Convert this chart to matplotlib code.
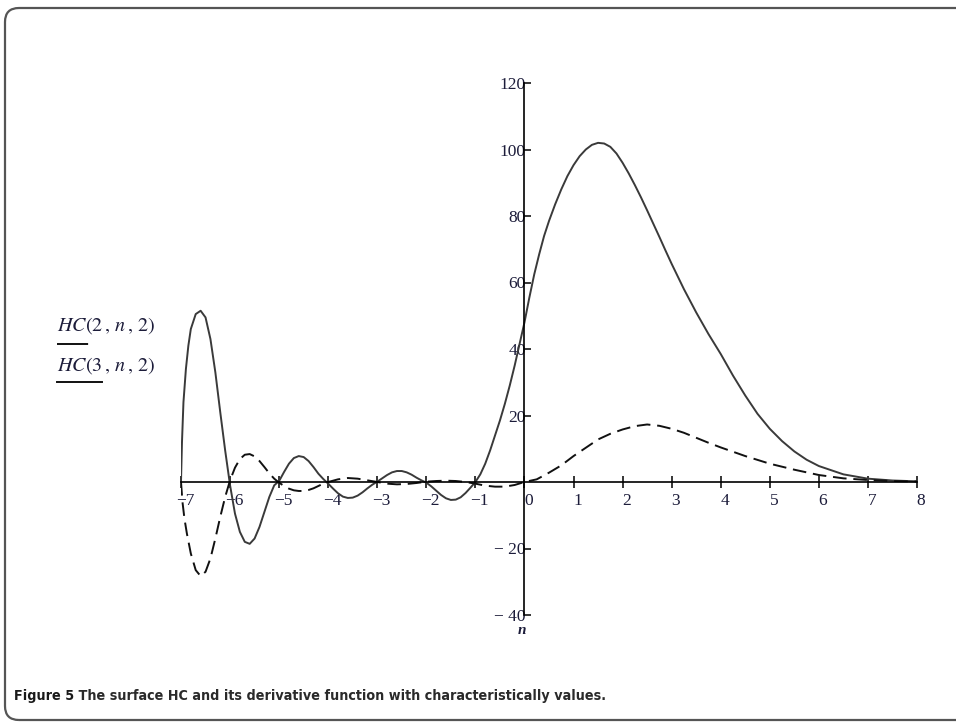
import matplotlib
matplotlib.use("Agg")
import matplotlib.pyplot as plt
from matplotlib import font_manager
from matplotlib.patches import FancyBboxPatch
from matplotlib.lines import Line2D
from matplotlib.transforms import IdentityTransform, ScaledTranslation

# HC(3,n,2) - solid curve
n_solid = [-7.0, -6.98, -6.95, -6.9, -6.85, -6.8, -6.7, -6.6, -6.5, -6.4, -6.3, -6.2, -6.1,
           -6.0, -5.9, -5.8, -5.7, -5.6, -5.5, -5.4, -5.3, -5.2, -5.1, -5.0, -4.9, -4.8,
           -4.7, -4.6, -4.5, -4.4, -4.3, -4.2, -4.1, -4.0, -3.9, -3.8, -3.7, -3.6, -3.5,
           -3.4, -3.3, -3.2, -3.1, -3.0, -2.9, -2.8, -2.7, -2.6, -2.5, -2.4, -2.3, -2.2,
           -2.1, -2.0, -1.9, -1.8, -1.7, -1.6, -1.5, -1.4, -1.3, -1.2, -1.1, -1.0, -0.9,
           -0.8, -0.7, -0.6, -0.5, -0.4, -0.3, -0.2, -0.1, 0.0, 0.1, 0.2, 0.3, 0.4, 0.5,
           0.625, 0.75, 0.875, 1.0, 1.125, 1.25, 1.375, 1.5, 1.625, 1.75, 1.875, 2.0,
           2.125, 2.25, 2.375, 2.5, 2.625, 2.75, 2.875, 3.0, 3.25, 3.5, 3.75, 4.0, 4.25,
           4.5, 4.75, 5.0, 5.25, 5.5, 5.75, 6.0, 6.5, 7.0, 7.5, 8.0]
hc3 = [0, 12, 24, 34, 41, 46, 50.5, 51.5, 49.5, 43, 33, 21, 9.5,
       -1, -9.5, -15, -18, -18.6, -17, -13.5, -9, -4.5, -1, 0.3, 3, 5.5,
       7.2, 7.8, 7.5, 6.3, 4.5, 2.5, 0.9, -0.5, -2, -3.4, -4.4, -4.8, -4.7,
       -4.1, -3.1, -1.9, -0.8, 0.1, 1.1, 2.1, 2.9, 3.3, 3.3, 2.9, 2.2, 1.3,
       0.5, -0.2, -1.3, -2.6, -3.9, -4.9, -5.4, -5.3, -4.6, -3.3, -1.7, 0, 2.3,
       5.5, 9.5, 14, 18.5, 23.5, 29, 35, 41.5, 48, 55.5, 62.5, 68.5, 74, 78.5,
       83.5, 88, 92, 95.3, 98, 100, 101.4, 102, 101.8, 100.8, 98.8, 96,
       92.8, 89.3, 85.6, 81.7, 77.7, 73.7, 69.6, 65.6, 58, 51, 44.5, 38.5, 32,
       26, 20.5, 16, 12.3, 9.2, 6.7, 4.8, 2.3, 1.0, 0.45, 0.2]

# HC(2,n,2) - dashed curve
n_dash = [-7.0, -6.97, -6.93, -6.88, -6.8, -6.7, -6.6, -6.5, -6.4, -6.3, -6.2, -6.1, -6.0,
          -5.9, -5.8, -5.7, -5.6, -5.5, -5.4, -5.3, -5.2, -5.1, -5.0, -4.9, -4.8, -4.7,
          -4.6, -4.5, -4.4, -4.3, -4.2, -4.1, -4.0, -3.8, -3.6, -3.4, -3.2, -3.0, -2.8,
          -2.6, -2.4, -2.2, -2.0, -1.8, -1.6, -1.4, -1.2, -1.0, -0.8, -0.6, -0.4, -0.2,
          0.0, 0.25, 0.5, 0.75, 1.0, 1.25, 1.5, 1.75, 2.0, 2.25, 2.5, 2.75, 3.0, 3.25,
          3.5, 3.75, 4.0, 4.5, 5.0, 5.5, 6.0, 6.5, 7.0, 7.5, 8.0]
hc2 = [0, -6, -11, -15.5, -21.5, -26.5, -28.3, -27, -23, -17, -10.5, -4.5, 0.5,
       4.3, 6.9, 8.2, 8.4, 7.7, 6.3, 4.5, 2.6, 1, -0.2, -1.2, -2, -2.5,
       -2.7, -2.7, -2.4, -1.9, -1.2, -0.5, 0, 0.8, 1.2, 1.0, 0.5, 0, -0.5,
       -0.7, -0.6, -0.3, 0.1, 0.3, 0.4, 0.3, 0, -0.5, -1.1, -1.4, -1.4, -0.9,
       0, 0.8, 2.8, 5, 7.8, 10.3, 12.8, 14.5, 15.8, 16.8, 17.3, 16.9, 16, 14.8,
       13.3, 11.8, 10.4, 7.8, 5.5, 3.7, 2.1, 1.1, 0.6, 0.3, 0.15]

x_ticks = list(range(-7, 9))
y_ticks = [-40, -20, 20, 40, 60, 80, 100, 120]
legend_labels = [r"$HC(2\,,\,n\,,\,2)$", r"$HC(3\,,\,n\,,\,2)$"]
caption_bold = "Figure 5"
caption_rest = " The surface HC and its derivative function with characteristically values."

plt.rcParams["mathtext.fontset"] = "stix"
W, H = 956, 723
tick_color = "#1c1c3a"

fig = plt.figure(figsize=(W / 100, H / 100), dpi=100)

# rounded frame around the figure
frame = FancyBboxPatch((5, 3), 990, 712, boxstyle="round,pad=0,rounding_size=14",
                       transform=IdentityTransform(), fill=False, edgecolor="#555555",
                       linewidth=1.6)
fig.patches.append(frame)

ax = fig.add_axes([181 / W, 1 - 615 / H, 736 / W, 532 / H])
ax.plot(n_solid, hc3, color="#3a3a3a", linewidth=1.4)
ax.plot(n_dash, hc2, color="#111111", linewidth=1.4, dashes=(7, 3.5))
ax.set_xlim(-7, 8)
ax.set_ylim(-40, 120)

for s in ["top", "right"]:
    ax.spines[s].set_visible(False)
ax.spines["left"].set_position(("data", 0))
ax.spines["bottom"].set_position(("data", 0))
ax.spines["left"].set_linewidth(1.2)
ax.spines["bottom"].set_linewidth(1.2)

ax.set_xticks(x_ticks)
ax.set_xticklabels([("\u2212" + str(-v)) if v < 0 else str(v) for v in x_ticks])
ax.set_yticks(y_ticks)
ax.set_yticklabels([("\u2212 " + str(-v)) if v < 0 else str(v) for v in y_ticks])
ax.tick_params(axis="x", direction="inout", length=8, width=1.1, pad=4,
               labelsize=12.5, labelcolor=tick_color)
ax.tick_params(axis="y", direction="in", length=5, width=1.1, pad=-1,
               labelsize=12.5, labelcolor=tick_color)
for lab in ax.get_xticklabels() + ax.get_yticklabels():
    lab.set_family("Liberation Serif")
for lab in ax.get_xticklabels():
    lab.set_transform(lab.get_transform() + ScaledTranslation(4 / 100, 0, fig.dpi_scale_trans))

# axis label n
fig.text(522 / W, 1 - 631 / H, "n", family="Liberation Serif", style="italic",
         weight="bold", fontsize=11, color=tick_color, ha="center", va="center")

# legend-like labels on the left
fig.text(57 / W, 1 - 326 / H, legend_labels[0], fontsize=14.5, color=tick_color,
         ha="left", va="center")
fig.text(57 / W, 1 - 366 / H, legend_labels[1], fontsize=14.5, color=tick_color,
         ha="left", va="center")
fig.lines.append(Line2D([57 / W, 102 / W], [1 - 344 / H, 1 - 344 / H],
                        transform=fig.transFigure, color="#111111", linewidth=1.4,
                        dashes=(16, 9)))
fig.lines.append(Line2D([57 / W, 102 / W], [1 - 382 / H, 1 - 382 / H],
                        transform=fig.transFigure, color="#111111", linewidth=1.4))

# caption - prefer a condensed bold sans if one is installed
names = {f.name for f in font_manager.fontManager.ttflist}
cap_kw = {"family": "DejaVu Sans", "weight": "bold"}
if "Liberation Sans Narrow" in names:
    cap_kw = {"family": "Liberation Sans Narrow", "weight": "bold"}
else:
    fp = font_manager.FontProperties(family="DejaVu Sans", weight="bold", stretch="condensed")
    if "Condensed" in font_manager.findfont(fp):
        cap_kw = {"family": "DejaVu Sans", "weight": "bold", "stretch": "condensed"}
    elif "Roboto" in names:
        cap_kw = {"family": "Roboto", "weight": "bold"}

renderer = fig.canvas.get_renderer()
size = 13
t1 = fig.text(14 / W, 1 - 696 / H, caption_bold, fontsize=size, color="#1a1a1a",
              ha="left", va="center", **cap_kw)
t2 = fig.text(0, 1 - 696 / H, caption_rest, fontsize=size, color="#2a2a2a",
              ha="left", va="center", **cap_kw)
total = t1.get_window_extent(renderer).width + t2.get_window_extent(renderer).width
size = size * 590 / total
t1.set_fontsize(size)
t2.set_fontsize(size)
w1 = t1.get_window_extent(renderer).width
t2.set_x((14 + w1) / W)

fig.savefig("out.png", dpi=100)
